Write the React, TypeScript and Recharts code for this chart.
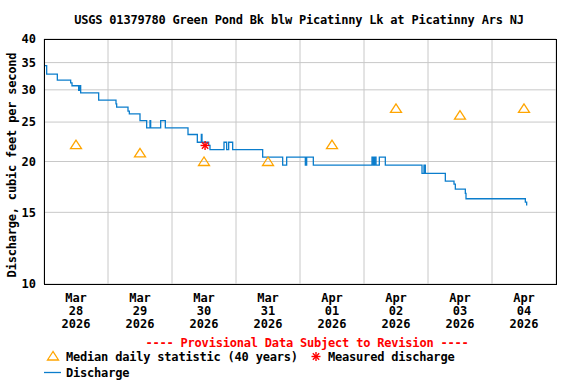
import { ComposedChart, Line, Scatter, XAxis, YAxis, CartesianGrid } from "recharts"

// hours since Mar 28 00:00, and discharge (cfs) at each step change
const flowHours = [0, 1, 5, 10, 10.5, 13, 13.5, 13.75, 20.5, 27, 27.25, 31.5, 32, 36, 38.5, 39.75, 40, 43.75, 45.5, 54, 57.5, 59, 59.25, 61.75, 62.25, 67.5, 68.5, 69.25, 70.75, 82, 89.5, 91, 98, 98.5, 101, 123, 123.5, 124, 124.5, 125.75, 128, 141.75, 142.5, 143, 150.5, 153.75, 154.25, 158, 158.25, 180.5, 181]
const flowCfs = [34.4, 32.8, 31.7, 31.2, 30.7, 29.9, 30.7, 29.5, 28.3, 27.7, 27.2, 26.6, 26.2, 25.2, 24.2, 25.2, 24.2, 25.2, 24.2, 23.3, 22.3, 23.3, 22.3, 21.9, 21.4, 22.3, 21.4, 22.3, 21.4, 20.5, 19.6, 20.5, 19.6, 20.5, 19.6, 20.5, 19.6, 20.5, 19.6, 20.5, 19.6, 18.7, 19.6, 18.7, 17.9, 17.6, 17.1, 16.7, 16.2, 15.9, 15.6]

const medianHours = [12, 36, 60, 84, 108, 132, 156, 180]
const medianCfs = [22, 21, 20, 20, 22, 27, 26, 27]

const measuredHours = [60.4]
const measuredCfs = [21.9]

const dayMonths = ["Mar", "Mar", "Mar", "Mar", "Apr", "Apr", "Apr", "Apr"]
const dayNums = ["28", "29", "30", "31", "01", "02", "03", "04"]
const dayYears = ["2026", "2026", "2026", "2026", "2026", "2026", "2026", "2026"]

const yTicks = [10, 15, 20, 25, 30, 35, 40]
const xTicks = [0, 24, 48, 72, 96, 120, 144, 168]

const flowData = flowHours.map((h, i) => ({ h, v: flowCfs[i] }))
const medianData = medianHours.map((h, i) => ({ h, v: medianCfs[i] }))
const measuredData = measuredHours.map((h, i) => ({ h, v: measuredCfs[i] }))

const FONT = "'DejaVu Sans Mono', monospace"
const BLUE = "#0b7dcc"
const ORANGE = "#ffa500"

function Triangle(props: any) {
  const { cx, cy } = props
  return (
    <polygon
      points={`${cx},${cy - 4.5} ${cx - 5.5},${cy + 4} ${cx + 5.5},${cy + 4}`}
      fill="none"
      stroke={ORANGE}
      strokeWidth={1.3}
    />
  )
}

function Asterisk(props: any) {
  const { cx, cy } = props
  const r = 4.5
  const d = 3.2
  return (
    <g stroke="#ff0000" strokeWidth={1.4}>
      <line x1={cx - r} y1={cy} x2={cx + r} y2={cy} />
      <line x1={cx} y1={cy - r} x2={cx} y2={cy + r} />
      <line x1={cx - d} y1={cy - d} x2={cx + d} y2={cy + d} />
      <line x1={cx - d} y1={cy + d} x2={cx + d} y2={cy - d} />
    </g>
  )
}

function DayTick(props: any) {
  const { x, y, index } = props
  if (index > 7) return null
  const cx = x + 32
  return (
    <text x={cx} y={y} textAnchor="middle" fontFamily={FONT} fontWeight="bold" fontSize={12} fill="#000">
      <tspan x={cx} dy={10}>{dayMonths[index]}</tspan>
      <tspan x={cx} dy={13}>{dayNums[index]}</tspan>
      <tspan x={cx} dy={13}>{dayYears[index]}</tspan>
    </text>
  )
}

const txt: any = {
  position: "absolute",
  fontFamily: FONT,
  fontWeight: "bold",
  fontSize: 12,
  letterSpacing: "-0.2px",
  whiteSpace: "nowrap",
  lineHeight: "14px",
}

export default function App() {
  return (
    <div style={{ position: "absolute", left: 0, top: 0, width: 576, height: 384, background: "#fff" }}>
      <ComposedChart width={576} height={384} margin={{ top: 39, right: 20, bottom: 0, left: 0 }}>
        <CartesianGrid stroke="#c8c8c8" strokeWidth={1} />
        <XAxis
          dataKey="h"
          type="number"
          domain={[0, 192]}
          ticks={xTicks}
          height={100}
          tickLine={false}
          axisLine={false}
          tick={<DayTick />}
          interval={0}
          allowDataOverflow
        />
        <YAxis
          type="number"
          scale="log"
          domain={[10, 40]}
          ticks={yTicks}
          width={44}
          tickLine={false}
          axisLine={false}
          interval={0}
          allowDataOverflow
          tick={{ fontFamily: FONT, fontWeight: "bold", fontSize: 12, fill: "#000" }}
        />
        <Line
          data={flowData}
          dataKey="v"
          type="stepAfter"
          stroke={BLUE}
          strokeWidth={1.3}
          dot={false}
          isAnimationActive={false}
        />
        <Scatter data={medianData} dataKey="v" shape={<Triangle />} isAnimationActive={false} />
        <Scatter data={measuredData} dataKey="v" shape={<Asterisk />} isAnimationActive={false} />
      </ComposedChart>

      <div style={{ position: "absolute", left: 44, top: 39, width: 511, height: 244, border: "1px solid #000", pointerEvents: "none" }} />

      <div style={{ ...txt, left: 0, width: 598, top: 13, textAlign: "center" }}>
        USGS 01379780 Green Pond Bk blw Picatinny Lk at Picatinny Ars NJ
      </div>

      <div style={{ ...txt, left: 12, top: 165, transform: "translate(-50%, -50%) rotate(-90deg)" }}>
        Discharge, cubic feet per second
      </div>

      <div style={{ ...txt, left: 0, width: 614, top: 336, textAlign: "center", color: "#ff0000" }}>
        ---- Provisional Data Subject to Revision ----
      </div>

      <svg style={{ position: "absolute", left: 45, top: 349 }} width={20} height={14}>
        <polygon points="8,2.5 2.5,11 13.5,11" fill="none" stroke={ORANGE} strokeWidth={1.3} />
      </svg>
      <div style={{ ...txt, left: 66, top: 350 }}>Median daily statistic (40 years)</div>
      <svg style={{ position: "absolute", left: 308, top: 350 }} width={16} height={14}>
        <Asterisk cx={8} cy={6.5} />
      </svg>
      <div style={{ ...txt, left: 328, top: 350 }}>Measured discharge</div>

      <svg style={{ position: "absolute", left: 44, top: 366 }} width={20} height={14}>
        <line x1={0} y1={6.5} x2={17} y2={6.5} stroke={BLUE} strokeWidth={1.3} />
      </svg>
      <div style={{ ...txt, left: 66, top: 366 }}>Discharge</div>
    </div>
  )
}
